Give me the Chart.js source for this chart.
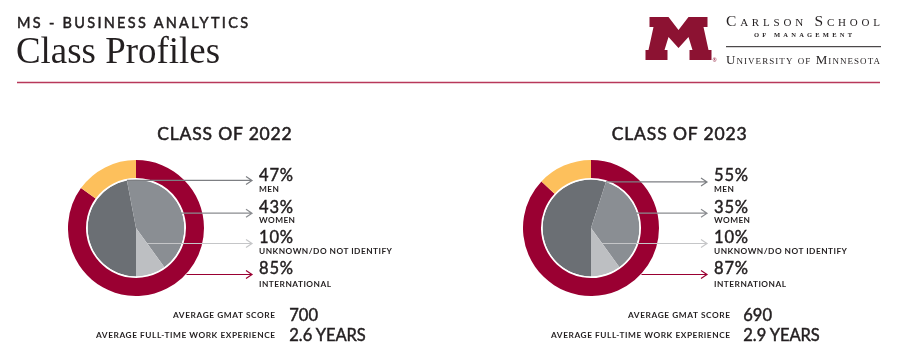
<!DOCTYPE html>
<html><head><meta charset="utf-8">
<script src="https://cdn.jsdelivr.net/npm/chart.js@4"></script>
<style>
html,body{margin:0;padding:0;background:#fff;width:898px;height:358px;overflow:hidden;}
#wrap{position:relative;width:898px;height:358px;}
canvas{position:absolute;}
svg{position:absolute;left:0;top:0;pointer-events:none;}
</style></head><body>
<div id="wrap">
<canvas id="c0" width="190" height="136"></canvas>
<canvas id="c1" width="190" height="136"></canvas>
<svg id="ov" width="898" height="358" xmlns="http://www.w3.org/2000/svg"></svg>
</div>
<script>
// ---------- data ----------
const classTitles = ['CLASS OF 2022', 'CLASS OF 2023'];
const genderLabels = ['MEN', 'WOMEN', 'UNKNOWN/DO NOT IDENTIFY'];
const genderPct2022 = [47, 43, 10];
const genderPct2023 = [55, 35, 10];
const internationalLabel = 'INTERNATIONAL';
const internationalPct = [85, 87];
const domesticPct = [15, 13];
const statLabels = ['AVERAGE GMAT SCORE', 'AVERAGE FULL-TIME WORK EXPERIENCE'];
const gmatScores = [700, 690];
const workYears = [2.6, 2.9];

// ---------- styles ----------
const MAROON = '#9a0032';
const GOLD = '#fdc05c';
const GRAY_DARK = '#6b6f74';
const GRAY_MID = '#8a8e93';
const GRAY_LIGHT = '#bdbfc2';
const ARROW_COLORS = ['#7d7f83', '#8a8c90', '#c5c6c8', MAROON];
const TXT = '#231f20';
const SANS = 'Lato, "Open Sans", sans-serif';
const SERIF = '"Liberation Serif", "DejaVu Serif", serif';
const MEDIUM = {'font-weight': 400, stroke: TXT, 'stroke-width': 0.45};

const R = 68;
const panels = [
  {cx: 136, cy: 227.5, textX: 259, tipX: 252, statRight: 275, statValX: 289.3, titleX: 157.3, titleW: 134.4, pct: genderPct2022},
  {cx: 590.5, cy: 227.5, textX: 714, tipX: 706.5, statRight: 730, statValX: 743.3, titleX: 611.7, titleW: 135, pct: genderPct2023}
];
const rowBase = [181, 212.7, 243, 274];
const rowSub = [192.3, 223.3, 254, 286.7];

const svg = document.getElementById('ov');
const NS = 'http://www.w3.org/2000/svg';
function el(tag, attrs, txt) {
  const e = document.createElementNS(NS, tag);
  for (const k in attrs) e.setAttribute(k, attrs[k]);
  if (txt !== undefined) e.textContent = txt;
  svg.appendChild(e);
  return e;
}
function text(x, y, s, o) {
  const a = Object.assign({x: x, y: y, fill: TXT, 'font-family': SANS}, o || {});
  return el('text', a, s);
}

// ---------- header ----------
text(17, 28, 'MS - BUSINESS ANALYTICS', Object.assign({'font-size': 14.5, textLength: 231, lengthAdjust: 'spacing'}, MEDIUM, {'stroke-width': 0.5}));
text(16, 63, 'Class Profiles', {'font-family': SERIF, 'font-size': 37, textLength: 204, lengthAdjust: 'spacingAndGlyphs'});
el('line', {x1: 17, x2: 880, y1: 82.5, y2: 82.5, stroke: '#b8385a', 'stroke-width': 1.3});

// logo block M
const mPts = [[4,0],[23,0],[33,13],[43,0],[62,0],[62,10],[58,10],[63,33],[66,33],[66,43],[44,43],[44,33],[47,33],[43,20],[33,31],[23,20],[19,33],[22,33],[22,43],[0,43],[0,33],[3,33],[8,10],[4,10]];
el('polygon', {points: mPts.map(p => (645.5 + p[0]) + ',' + (17 + p[1])).join(' '), fill: '#8c1232'});
text(712.5, 62, '®', {'font-size': 5, fill: '#8c1232'});
text(726, 26, 'Carlson School', {'font-family': SERIF, 'font-size': 15.5, 'font-variant': 'small-caps', textLength: 154, lengthAdjust: 'spacing'});
text(754, 36.7, 'OF MANAGEMENT', {'font-family': SERIF, 'font-size': 6.5, 'font-weight': 700, textLength: 98, lengthAdjust: 'spacing'});
el('line', {x1: 726, x2: 881, y1: 46.7, y2: 46.7, stroke: TXT, 'stroke-width': 1});
text(726, 64, 'University of Minnesota', {'font-family': SERIF, 'font-size': 13, 'font-variant': 'small-caps', textLength: 154, lengthAdjust: 'spacing'});

// ---------- panels ----------
panels.forEach((p, i) => {
  text(p.titleX, 140, classTitles[i], Object.assign({'font-size': 17.5, textLength: p.titleW, lengthAdjust: 'spacing'}, MEDIUM, {'stroke-width': 0.55}));
  const vals = [p.pct[0], p.pct[1], p.pct[2], internationalPct[i]];
  const subs = [genderLabels[0], genderLabels[1], genderLabels[2], internationalLabel];
  const subW = [20, 36, 133, 72];
  vals.forEach((v, k) => {
    text(p.textX, rowBase[k], v + '%', Object.assign({'font-size': 16.5, textLength: 34, lengthAdjust: 'spacing'}, MEDIUM));
    text(p.textX, rowSub[k], subs[k], {'font-size': 8.3, 'font-weight': 700, textLength: subW[k], lengthAdjust: 'spacing'});
  });
  // stats
  text(p.statRight, 317.7, statLabels[0], {'font-size': 8.3, 'font-weight': 700, 'text-anchor': 'end', textLength: 102, lengthAdjust: 'spacing'});
  text(p.statRight, 337.5, statLabels[1], {'font-size': 8.3, 'font-weight': 700, 'text-anchor': 'end', textLength: 179, lengthAdjust: 'spacing'});
  text(p.statValX, 321, String(gmatScores[i]), Object.assign({'font-size': 16.5}, MEDIUM));
  text(p.statValX, 341, workYears[i].toFixed(1) + ' YEARS', Object.assign({'font-size': 16.5, textLength: 76.5, lengthAdjust: 'spacing'}, MEDIUM));

  // chart canvas
  const cv = document.getElementById('c' + i);
  const left = p.cx - R, top = p.cy - R;
  cv.style.left = left + 'px';
  cv.style.top = top + 'px';

  const arrowPlugin = {
    id: 'arrows' + i,
    afterDatasetsDraw(chart) {
      const ctx = chart.ctx;
      const pie = chart.getDatasetMeta(2).data;
      const a0 = pie[0];
      const cx = a0.x, cy = a0.y, pr = a0.outerRadius;
      const tip = p.tipX - left;
      const starts = [];
      const ang = a0.endAngle;
      starts.push([cx + pr * Math.cos(ang), cy + pr * Math.sin(ang)]);
      const yW = rowBase[1] - top;
      starts.push([cx + Math.sqrt(Math.max(pr * pr - (yW - cy) * (yW - cy), 0)) - 1, yW]);
      starts.push([cx + 11, rowBase[2] - top]);
      starts.push([cx + 50.5, rowBase[3] - top]);
      ctx.save();
      ctx.lineWidth = 1.2;
      starts.forEach((s, k) => {
        const y = s[1];
        ctx.strokeStyle = ARROW_COLORS[k];
        ctx.beginPath();
        ctx.moveTo(s[0], y);
        ctx.lineTo(tip, y);
        ctx.moveTo(tip - 6, y - 4);
        ctx.lineTo(tip, y);
        ctx.lineTo(tip - 6, y + 4);
        ctx.stroke();
      });
      ctx.restore();
    }
  };

  new Chart(cv.getContext('2d'), {
    type: 'doughnut',
    data: {
      labels: subs,
      datasets: [
        {data: [internationalPct[i], domesticPct[i]], backgroundColor: [MAROON, GOLD], weight: 18, rotation: 0, borderWidth: 0, hoverBorderWidth: 0},
        {data: [100], backgroundColor: ['#ffffff'], weight: 1.6, borderWidth: 0, hoverBorderWidth: 0},
        {data: p.pct, backgroundColor: [GRAY_DARK, GRAY_MID, GRAY_LIGHT], weight: 48.4, rotation: 180, borderWidth: 0, hoverBorderWidth: 0}
      ]
    },
    options: {
      responsive: false,
      animation: false,
      events: [],
      cutout: 0,
      layout: {padding: {left: 0, top: 0, bottom: 0, right: 54}},
      plugins: {legend: {display: false}, tooltip: {enabled: false}}
    },
    plugins: [arrowPlugin]
  });
});
</script>
</body></html>
